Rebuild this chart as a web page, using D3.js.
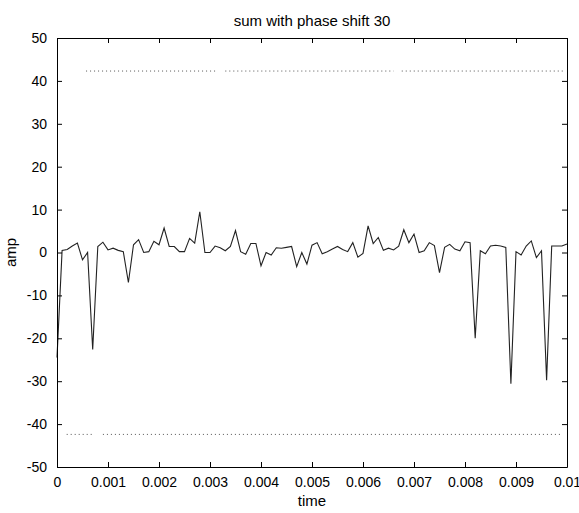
<!DOCTYPE html>
<html>
<head>
<meta charset="utf-8">
<script src="https://cdn.jsdelivr.net/npm/d3@7"></script>
<style>
html,body{margin:0;padding:0;background:#fff;}
svg{display:block;font-family:"Liberation Sans",Arial,sans-serif;}
</style>
</head>
<body>
<svg id="chart" width="579" height="513"></svg>
<script>
const titleText = "sum with phase shift 30";
const xLabel = "time";
const yLabel = "amp";
const xTicks = [0,0.001,0.002,0.003,0.004,0.005,0.006,0.007,0.008,0.009,0.01];
const xTickLabels = ["0","0.001","0.002","0.003","0.004","0.005","0.006","0.007","0.008","0.009","0.01"];
const yTicks = [-50,-40,-30,-20,-10,0,10,20,30,40,50];
const yTickLabels = ["-50","-40","-30","-20","-10","0","10","20","30","40","50"];
const time = [0,0.0001,0.0002,0.0003,0.0004,0.0005,0.0006,0.0007,0.0008,0.0009,
  0.0010,0.0011,0.0012,0.0013,0.0014,0.0015,0.0016,0.0017,0.0018,0.0019,
  0.0020,0.0021,0.0022,0.0023,0.0024,0.0025,0.0026,0.0027,0.0028,0.0029,
  0.0030,0.0031,0.0032,0.0033,0.0034,0.0035,0.0036,0.0037,0.0038,0.0039,
  0.0040,0.0041,0.0042,0.0043,0.0044,0.0045,0.0046,0.0047,0.0048,0.0049,
  0.0050,0.0051,0.0052,0.0053,0.0054,0.0055,0.0056,0.0057,0.0058,0.0059,
  0.0060,0.0061,0.0062,0.0063,0.0064,0.0065,0.0066,0.0067,0.0068,0.0069,
  0.0070,0.0071,0.0072,0.0073,0.0074,0.0075,0.0076,0.0077,0.0078,0.0079,
  0.0080,0.0081,0.0082,0.0083,0.0084,0.0085,0.0086,0.0087,0.0088,0.0089,
  0.0090,0.0091,0.0092,0.0093,0.0094,0.0095,0.0096,0.0097,0.0098,0.0099,0.0100];
const amp = [-24.5,0.5,0.7,1.5,2.2,-1.7,0,-22.6,1.4,2.4,
  0.6,1,0.5,0.2,-7,1.8,3,0,0.2,2.6,
  1.8,5.7,1.4,1.4,0.2,0.2,3.3,2.2,9.5,0,
  0,1.5,1.1,0.4,1.4,5.1,0.2,-0.4,2.1,2.1,
  -3.1,0,-0.6,1.1,1,1.2,1.4,-3.3,0,-2.7,
  1.7,2.3,-0.3,0.2,0.8,1.4,0.7,0.2,2.3,-1.1,
  -0.2,6.2,2.1,3.5,0.5,1,0.6,1.5,5.3,2.3,
  4.3,0,0.4,2.3,1.6,-4.7,1.2,1.9,0.8,0.4,
  2.5,2.3,-20,0.4,-0.3,1.5,1.7,1.5,1.2,-30.6,
  0.2,-0.6,1.5,2.7,-1.2,0.4,-29.8,1.5,1.5,1.5,2];
// dotted reference lines: [start time, end time] segments
const upperLevel = 42.3;
const upperSegments = [[0.00057,0.0031],[0.0033,0.0066],[0.00676,0.00996]];
const lowerLevel = -42.4;
const lowerSegments = [[0.00019,0.00071],[0.0009,0.0099]];

const svg = d3.select("#chart");
const L = 57, R = 567, T = 38, B = 467;
const x = d3.scaleLinear().domain([0,0.01]).range([L,R]);
const y = d3.scaleLinear().domain([-50,50]).range([B,T]);
const tickLen = 5;

// reference dotted lines
const refG = svg.append("g");
function drawSegs(level, segs){
  refG.selectAll(null).data(segs).enter().append("line")
    .attr("x1", d=>x(d[0])).attr("x2", d=>x(d[1]))
    .attr("y1", y(level)).attr("y2", y(level))
    .attr("stroke","#555").attr("stroke-width",1)
    .attr("stroke-dasharray","1,3");
}
drawSegs(upperLevel, upperSegments);
drawSegs(lowerLevel, lowerSegments);

// main line
const pts = time.map((t,i)=>[t,amp[i]]);
svg.append("path").datum(pts)
  .attr("d", d3.line().x(d=>x(d[0])).y(d=>y(d[1])))
  .attr("fill","none").attr("stroke","#222").attr("stroke-width",1.1)
  .attr("stroke-linejoin","miter");

// axes
const fs = 14;
const bottomAxis = d3.axisBottom(x).tickValues(xTicks).tickFormat((d,i)=>xTickLabels[i])
  .tickSizeInner(-tickLen).tickSizeOuter(0).tickPadding(10);
const gb = svg.append("g").attr("transform",`translate(0,${B})`).call(bottomAxis);
const topAxis = d3.axisTop(x).tickValues(xTicks).tickFormat("").tickSizeInner(-tickLen).tickSizeOuter(0);
const gt = svg.append("g").attr("transform",`translate(0,${T})`).call(topAxis);
const leftAxis = d3.axisLeft(y).tickValues(yTicks).tickFormat((d,i)=>yTickLabels[i])
  .tickSizeInner(-tickLen).tickSizeOuter(0).tickPadding(10);
const gl = svg.append("g").attr("transform",`translate(${L},0)`).call(leftAxis);
const rightAxis = d3.axisRight(y).tickValues(yTicks).tickFormat("").tickSizeInner(-tickLen).tickSizeOuter(0);
const gr = svg.append("g").attr("transform",`translate(${R},0)`).call(rightAxis);

[gb,gt,gl,gr].forEach(g=>{
  g.select(".domain").attr("stroke","#000").attr("stroke-width",1);
  g.selectAll(".tick line").attr("stroke","#000");
  g.selectAll("text").attr("fill","#000").style("font-size",fs+"px")
    .style("font-family","'Liberation Sans',Arial,sans-serif");
});
gb.selectAll(".tick text").attr("dy","0.71em");

// titles
svg.append("text").attr("x",(L+R)/2).attr("y",26).attr("text-anchor","middle")
  .style("font-size","15px").text(titleText);
svg.append("text").attr("x",(L+R)/2).attr("y",506).attr("text-anchor","middle")
  .style("font-size","15px").text(xLabel);
svg.append("text").attr("transform",`translate(16,${(T+B)/2}) rotate(-90)`)
  .attr("text-anchor","middle").style("font-size","15px").text(yLabel);
</script>
</body>
</html>
